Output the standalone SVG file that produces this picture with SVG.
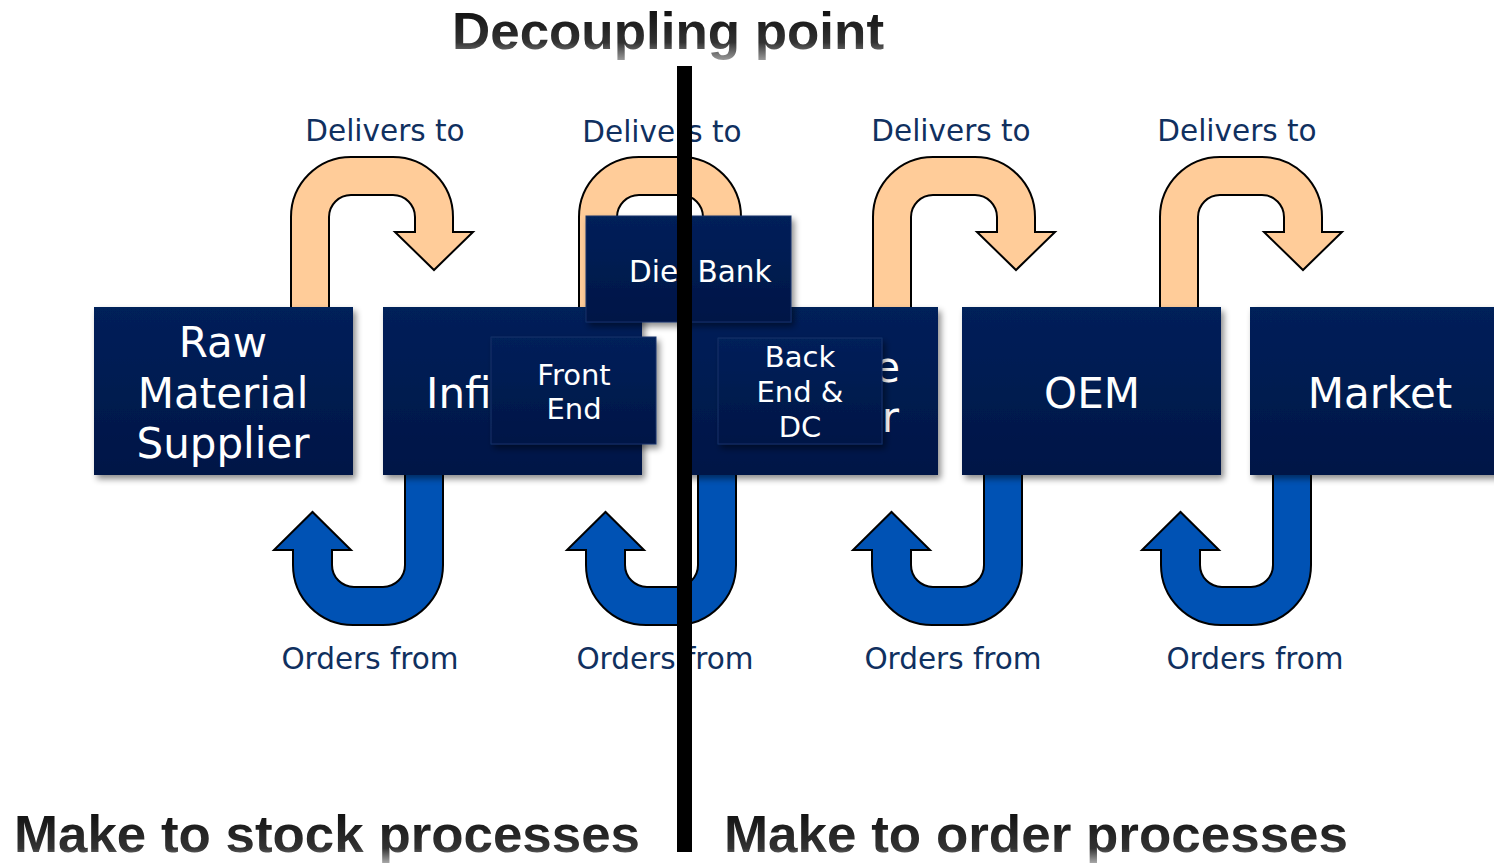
<svg xmlns="http://www.w3.org/2000/svg" width="1494" height="863" viewBox="0 0 1494 863">
  <style>
    .box { fill: url(#boxFill); filter: url(#shadow); }
    .sub { fill: url(#boxFill); stroke: #17336a; stroke-width: 1; filter: url(#shadow); }
    .name { font-family: "DejaVu Sans", Verdana, sans-serif; font-size: 42px; fill: #ffffff; text-anchor: middle; }
    .subname { font-family: "DejaVu Sans", Verdana, sans-serif; font-size: 29px; fill: #ffffff; text-anchor: middle; }
    .flow { font-family: "DejaVu Sans", Verdana, sans-serif; font-size: 29.5px; fill: #10305f; text-anchor: middle; }
    .deliver { fill: #ffcc99; stroke: #000000; stroke-width: 2; }
    .order { fill: #0052b4; stroke: #000000; stroke-width: 2; }
    .heading { font-family: "Liberation Sans", Arial, sans-serif; font-weight: bold; }
  </style>
  <defs>
    <linearGradient id="boxFill" x1="0" y1="0" x2="0" y2="1">
      <stop offset="0" stop-color="#00205a"/>
      <stop offset="1" stop-color="#001646"/>
    </linearGradient>
    <linearGradient id="titleFill" gradientUnits="userSpaceOnUse" x1="0" y1="10" x2="0" y2="64">
      <stop offset="0" stop-color="#111111"/>
      <stop offset="0.6" stop-color="#333333"/>
      <stop offset="1" stop-color="#b0b0b0"/>
    </linearGradient>
    <linearGradient id="footFill" gradientUnits="userSpaceOnUse" x1="0" y1="812" x2="0" y2="864">
      <stop offset="0" stop-color="#111111"/>
      <stop offset="0.7" stop-color="#333333"/>
      <stop offset="1" stop-color="#b0b0b0"/>
    </linearGradient>
    <filter id="shadow" x="-10%" y="-10%" width="130%" height="140%">
      <feDropShadow dx="3" dy="4" stdDeviation="3" flood-color="#000000" flood-opacity="0.45"/>
    </filter>
    <!-- U-turn arrow over the top of a box -->
    <path id="deliverArrow" d="M291,309 V217 A60,60 0 0 1 351,157 H393 A60,60 0 0 1 453,217 V232 H473 L434,270 L395,232 H415 V217 A22,22 0 0 0 393,195 H351 A22,22 0 0 0 329,217 V309 Z"/>
    <!-- U-turn arrow under the bottom of a box -->
    <path id="orderArrow" d="M405,473 V565 A22,22 0 0 1 383,587 H354 A22,22 0 0 1 332,565 V550 H351 L312.5,512 L274,550 H293 V565 A60,60 0 0 0 353,625 H383 A60,60 0 0 0 443,565 V473 Z"/>
  </defs>

  <rect width="1494" height="863" fill="#ffffff"/>

  <!-- headings -->
  <text class="heading" x="452" y="49" font-size="52" fill="url(#titleFill)" textLength="432" lengthAdjust="spacingAndGlyphs">Decoupling point</text>
  <text class="heading" x="14" y="852" font-size="52" fill="url(#footFill)" textLength="626" lengthAdjust="spacingAndGlyphs">Make to stock processes</text>
  <text class="heading" x="724" y="852" font-size="52" fill="url(#footFill)" textLength="624" lengthAdjust="spacingAndGlyphs">Make to order processes</text>

  <!-- connectors: deliveries above, orders below -->
  <g id="connectors">
    <use href="#deliverArrow" class="deliver"/>
    <use href="#deliverArrow" class="deliver" transform="translate(288,0)"/>
    <use href="#deliverArrow" class="deliver" transform="translate(582,0)"/>
    <use href="#deliverArrow" class="deliver" transform="translate(869,0)"/>
    <use href="#orderArrow" class="order"/>
    <use href="#orderArrow" class="order" transform="translate(293,0)"/>
    <use href="#orderArrow" class="order" transform="translate(579,0)"/>
    <use href="#orderArrow" class="order" transform="translate(868,0)"/>
    <text class="flow" x="385" y="141">Delivers to</text>
    <text class="flow" x="662" y="142">Delivers to</text>
    <text class="flow" x="951" y="141">Delivers to</text>
    <text class="flow" x="1237" y="141">Delivers to</text>
    <text class="flow" x="370" y="669">Orders from</text>
    <text class="flow" x="665" y="669">Orders from</text>
    <text class="flow" x="953" y="669">Orders from</text>
    <text class="flow" x="1255" y="669">Orders from</text>
  </g>

  <g id="raw-material-supplier">
    <rect class="box" x="94" y="307" width="259" height="168"/>
    <text class="name" x="223" y="357">Raw</text>
    <text class="name" x="223" y="408">Material</text>
    <text class="name" x="223" y="458">Supplier</text>
  </g>

  <g id="infineon">
    <rect class="box" x="383" y="307" width="259" height="168"/>
    <text class="name" x="426" y="408" style="text-anchor:start">Infi</text>
  </g>

  <g id="third-stage">
    <rect class="box" x="679" y="307" width="259" height="168"/>
    <text class="name" x="900" y="382" style="text-anchor:end">e</text>
    <text class="name" x="899" y="432" style="text-anchor:end">r</text>
  </g>

  <g id="oem">
    <rect class="box" x="962" y="307" width="259" height="168"/>
    <text class="name" x="1092" y="408">OEM</text>
  </g>

  <g id="market">
    <rect class="box" x="1250" y="307" width="259" height="168"/>
    <text class="name" x="1380" y="408">Market</text>
  </g>

  <g id="die-bank">
    <rect class="sub" x="586" y="216" width="205" height="106"/>
    <text class="subname" x="629" y="282" style="text-anchor:start; font-size:29.5px; word-spacing:10px">Die Bank</text>
  </g>

  <g id="front-end">
    <rect class="sub" x="491" y="337" width="165" height="107"/>
    <text class="subname" x="574" y="385">Front</text>
    <text class="subname" x="574" y="419">End</text>
  </g>

  <g id="back-end-dc">
    <rect class="sub" x="718" y="338" width="164" height="106"/>
    <text class="subname" x="800" y="367">Back</text>
    <text class="subname" x="800" y="402">End &amp;</text>
    <text class="subname" x="800" y="437">DC</text>
  </g>

  <!-- decoupling line -->
  <rect id="decoupling-line" x="677" y="66" width="15" height="786" fill="#000000"/>
</svg>
